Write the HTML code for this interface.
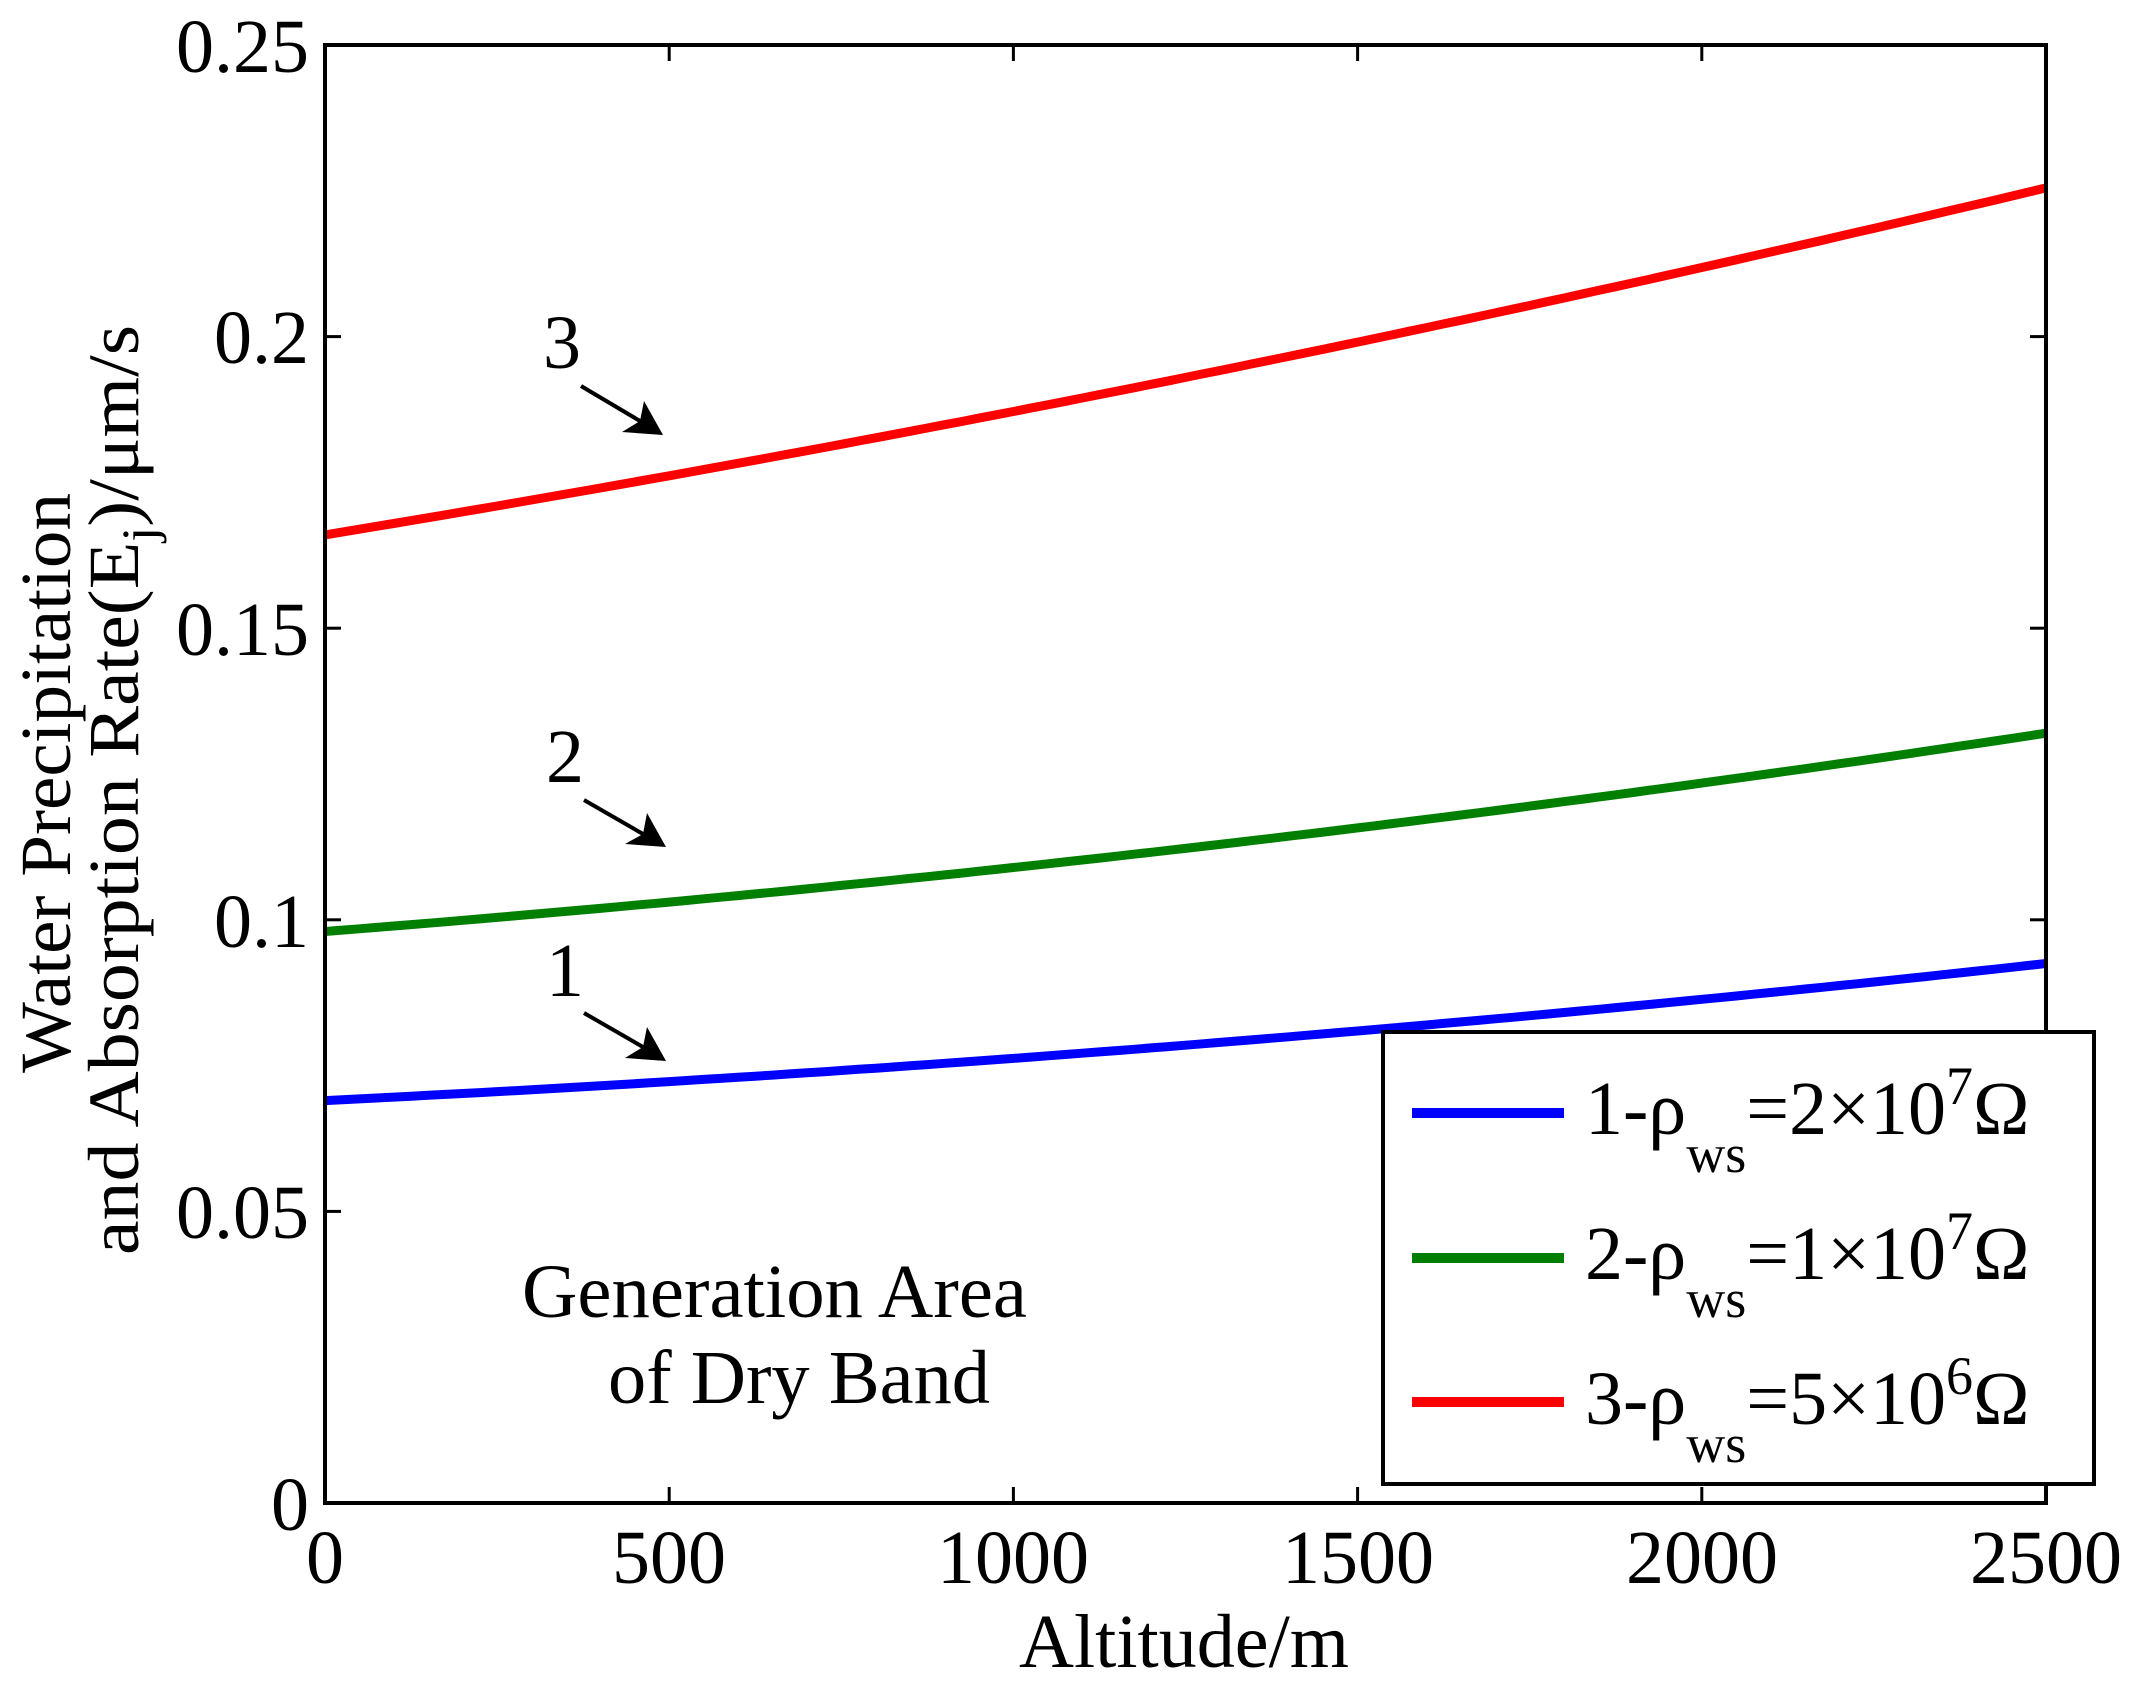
<!DOCTYPE html>
<html><head><meta charset="utf-8"><style>html,body{margin:0;padding:0;background:#fff}svg{display:block}</style></head>
<body>
<svg width="2139" height="1691" viewBox="0 0 2139 1691" xmlns="http://www.w3.org/2000/svg" font-family="Liberation Serif, serif" fill="#000">
<rect width="2139" height="1691" fill="#fff"/>
<g id="curves" fill="none" stroke-width="9" stroke-linejoin="round">
<polyline id="r" stroke="#ff0000"/>
<polyline id="g" stroke="#007f00"/>
<polyline id="b" stroke="#0000ff"/>
</g>
<rect x="325" y="45" width="1721" height="1458" fill="none" stroke="#000" stroke-width="4"/>
<g stroke="#000" stroke-width="3">
<line x1="325" y1="336.6" x2="341" y2="336.6"/><line x1="2046" y1="336.6" x2="2030" y2="336.6"/>
<line x1="325" y1="628.2" x2="341" y2="628.2"/><line x1="2046" y1="628.2" x2="2030" y2="628.2"/>
<line x1="325" y1="919.8" x2="341" y2="919.8"/><line x1="2046" y1="919.8" x2="2030" y2="919.8"/>
<line x1="325" y1="1211.4" x2="341" y2="1211.4"/><line x1="2046" y1="1211.4" x2="2030" y2="1211.4"/>
<line x1="669.2" y1="1503" x2="669.2" y2="1487"/><line x1="669.2" y1="45" x2="669.2" y2="61"/>
<line x1="1013.4" y1="1503" x2="1013.4" y2="1487"/><line x1="1013.4" y1="45" x2="1013.4" y2="61"/>
<line x1="1357.6" y1="1503" x2="1357.6" y2="1487"/><line x1="1357.6" y1="45" x2="1357.6" y2="61"/>
<line x1="1701.8" y1="1503" x2="1701.8" y2="1487"/><line x1="1701.8" y1="45" x2="1701.8" y2="61"/>
</g>
<g font-size="76" text-anchor="end">
<text x="309" y="72">0.25</text>
<text x="309" y="363">0.2</text>
<text x="309" y="655">0.15</text>
<text x="309" y="947">0.1</text>
<text x="309" y="1238">0.05</text>
<text x="309" y="1530">0</text>
</g>
<g font-size="76" text-anchor="middle">
<text x="325" y="1583">0</text>
<text x="669" y="1583">500</text>
<text x="1013" y="1583">1000</text>
<text x="1358" y="1583">1500</text>
<text x="1702" y="1583">2000</text>
<text x="2046" y="1583">2500</text>
<text x="1184" y="1667" textLength="330" lengthAdjust="spacingAndGlyphs">Altitude/m</text>
</g>
<g font-size="72" text-anchor="middle">
<text transform="translate(70,783) rotate(-90)" textLength="580" lengthAdjust="spacingAndGlyphs">Water Precipitation</text>
<text transform="translate(138,790) rotate(-90)" textLength="930" lengthAdjust="spacingAndGlyphs">and Absorption Rate(E<tspan font-size="50" dy="18">j</tspan><tspan dy="-18">)/μm/s</tspan></text>
</g>
<g font-size="76">
<text x="522" y="1317" textLength="505" lengthAdjust="spacingAndGlyphs">Generation Area</text>
<text x="608" y="1403" textLength="382" lengthAdjust="spacingAndGlyphs">of Dry Band</text>
<text x="543" y="368">3</text>
<text x="546" y="782">2</text>
<text x="546" y="996">1</text>
</g>
<g stroke="#000" stroke-width="4">
<line x1="581" y1="386" x2="640" y2="421"/>
<line x1="584" y1="800" x2="643" y2="834"/>
<line x1="584" y1="1013" x2="643" y2="1047"/>
</g>
<g>
<polygon points="663,435 622,432 640,421 644,401"/>
<polygon points="666,847 625,844 643,834 647,813"/>
<polygon points="666,1061 625,1058 643,1047 647,1027"/>
</g>
<rect x="1383" y="1032" width="711" height="452" fill="#fff" stroke="#000" stroke-width="4"/>
<g stroke-width="10">
<line x1="1412" y1="1113" x2="1564" y2="1113" stroke="#0000ff"/>
<line x1="1412" y1="1258" x2="1564" y2="1258" stroke="#007f00"/>
<line x1="1412" y1="1402" x2="1564" y2="1402" stroke="#ff0000"/>
</g>
<g font-size="76">
<text x="1585" y="1134">1-ρ<tspan font-size="54" dy="38">ws</tspan><tspan dy="-38">=2×10</tspan><tspan font-size="54" dy="-30">7</tspan><tspan dy="30">Ω</tspan></text>
<text x="1585" y="1279">2-ρ<tspan font-size="54" dy="38">ws</tspan><tspan dy="-38">=1×10</tspan><tspan font-size="54" dy="-30">7</tspan><tspan dy="30">Ω</tspan></text>
<text x="1585" y="1424">3-ρ<tspan font-size="54" dy="38">ws</tspan><tspan dy="-38">=5×10</tspan><tspan font-size="54" dy="-30">6</tspan><tspan dy="30">Ω</tspan></text>
</g>
<script>
function pts(a,e,c){var s=[];for(var i=0;i<=100;i++){var t=i/100;var v=a+(e-a-c)*t+c*t*t;s.push((325+1721*t).toFixed(1)+','+(1503-v/0.25*1458).toFixed(1));}return s.join(' ');}
document.getElementById('r').setAttribute('points',pts(0.166,0.2255,0.011));
document.getElementById('g').setAttribute('points',pts(0.098,0.132,0.011));
document.getElementById('b').setAttribute('points',pts(0.069,0.0925,0.009));
</script>
</svg>
</body></html>
